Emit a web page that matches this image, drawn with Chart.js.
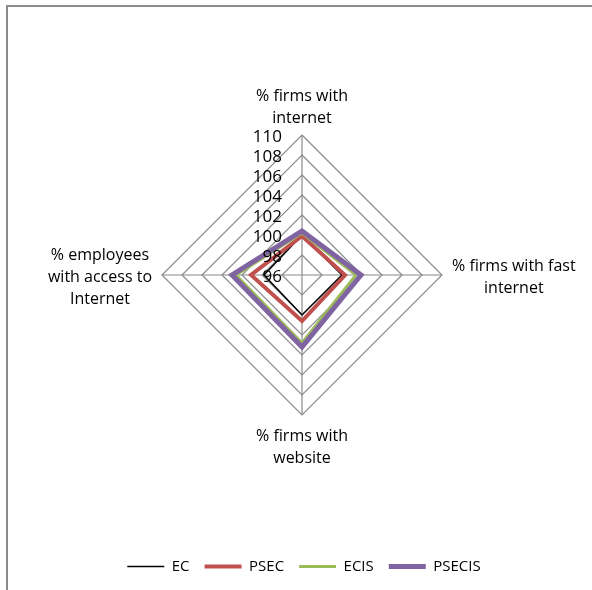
<!DOCTYPE html>
<html>
<head>
<meta charset="utf-8">
<script src="https://cdn.jsdelivr.net/npm/chart.js@4.4.1/dist/chart.umd.min.js"></script>
<style>
  html, body { margin: 0; padding: 0; background: #fff; }
  #frame { position: absolute; left: 6px; top: 5px; width: 700px; height: 700px;
           border-left: 2px solid #8c8c8c; border-top: 2px solid #8c8c8c; }
  #myChart { position: absolute; left: 0; top: 0; }
</style>
</head>
<body>
<div id="frame"></div>
<canvas id="myChart" width="592" height="590"></canvas>
<script>
// Nhãn các trục
const categories = [
    ['% firms with', 'internet'],
    ['% firms with fast', 'internet'],
    ['% firms with', 'website'],
    ['% employees', 'with access to', 'Internet']
];

// Giá trị các chuỗi
const ecValues = [100.0, 100.0, 100.0, 99.8];
const psecValues = [99.9, 100.3, 100.6, 101.1];
const ecisValues = [100.2, 101.4, 102.8, 102.6];
const psecisValues = [100.4, 101.9, 103.2, 103.0];

// Thang đo
const tickMin = 96;
const tickMax = 110;
const tickStep = 2;

const fontFamily = '"Open Sans", "Liberation Sans", sans-serif';
const gridColor = '#8a8a8a';

// Vẽ nhãn trục (căn giữa từng dòng) và nhãn vạch chia
const labelPlugin = {
    id: 'labelPlugin',
    afterDraw(chart) {
        const scale = chart.scales.r;
        const c = chart.ctx;
        c.save();
        c.fillStyle = '#000';

        // nhãn vạch chia
        c.font = '17px ' + fontFamily;
        c.textAlign = 'right';
        c.textBaseline = 'middle';
        scale.ticks.forEach(t => {
            const d = scale.getDistanceFromCenterForValue(t.value);
            c.fillText(String(t.value), scale.xCenter - 20, scale.yCenter - d + 2);
        });

        // nhãn trục
        c.font = '16px ' + fontFamily;
        const lh = 22;
        categories.forEach((lines, i) => {
            const p = scale.getPointPosition(i, scale.drawingArea + 10);
            const w = Math.max(...lines.map(s => c.measureText(s).width));
            const h = lines.length * lh;
            let cx, top;
            if (i === 0) { cx = p.x; top = p.y - h + 4; }
            else if (i === 1) { cx = p.x + w / 2; top = p.y - h / 2 + 2; }
            else if (i === 2) { cx = p.x; top = p.y; }
            else { cx = p.x - w / 2; top = p.y - h / 2 + 2; }
            c.textAlign = 'center';
            lines.forEach((s, k) => c.fillText(s, cx, top + lh * k + lh / 2));
        });
        c.restore();
    }
};

const ctx = document.getElementById('myChart').getContext('2d');

const chart = new Chart(ctx, {
    type: 'radar',
    data: {
        labels: categories,
        datasets: [
            { label: 'EC', data: ecValues, borderColor: '#000000', borderWidth: 1.5 },
            { label: 'PSEC', data: psecValues, borderColor: '#C0504D', borderWidth: 4 },
            { label: 'ECIS', data: ecisValues, borderColor: '#9BBB59', borderWidth: 3 },
            { label: 'PSECIS', data: psecisValues, borderColor: '#8064A2', borderWidth: 5 }
        ].map((d, i) => Object.assign(d, {
            order: 4 - i,
            fill: false,
            pointRadius: 0,
            borderCapStyle: 'round',
            backgroundColor: 'transparent'
        }))
    },
    options: {
        responsive: false,
        animation: false,
        layout: { padding: { left: 16, right: 0, top: 0, bottom: 6 } },
        plugins: {
            legend: {
                position: 'bottom',
                labels: {
                    usePointStyle: true,
                    pointStyle: 'line',
                    pointStyleWidth: 37,
                    padding: 15,
                    color: '#000',
                    font: { family: fontFamily, size: 15 },
                    sort: (a, b) => a.datasetIndex - b.datasetIndex
                }
            },
            tooltip: { enabled: false }
        },
        scales: {
            r: {
                min: tickMin,
                max: tickMax,
                ticks: { stepSize: tickStep, display: false },
                grid: { color: gridColor, lineWidth: 1.2 },
                angleLines: { color: gridColor, lineWidth: 1.2 },
                pointLabels: { display: false },
                afterFit: s => {
                    s.xCenter = 302;
                    s.yCenter = 275;
                    s.drawingArea = 140;
                }
            }
        }
    },
    plugins: [labelPlugin]
});
</script>
</body>
</html>
